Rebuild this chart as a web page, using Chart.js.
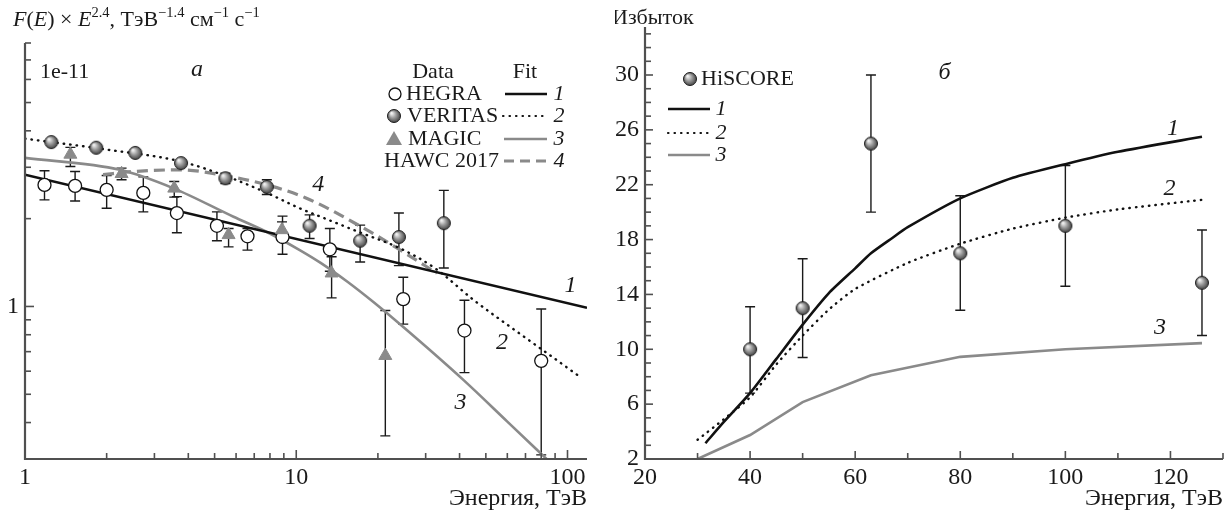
<!DOCTYPE html>
<html>
<head>
<meta charset="utf-8">
<script src="https://cdn.jsdelivr.net/npm/chart.js@4.4.1/dist/chart.umd.min.js"></script>
<style>
  body { margin: 0; background: #fff; }
  .wrap { position: relative; width: 1231px; height: 516px; }
  #left { position: absolute; left: 0; top: 0; }
  #right { position: absolute; left: 615px; top: 0; }
</style>
</head>
<body>
<div class="wrap">
  <canvas id="left" width="615" height="516"></canvas>
  <canvas id="right" width="616" height="516"></canvas>
</div>
<script>
// ---- panel a: spectra, E in TeV, F*E^2.4 in units of 1e-11 ----
const hegraE  = [1.18, 1.53, 2.0, 2.73, 3.63, 5.1, 6.61, 8.9, 13.3, 24.8, 41.7, 80.0];
const hegraF  = [2.61, 2.59, 2.51, 2.45, 2.09, 1.89, 1.74, 1.73, 1.57, 1.06, 0.827, 0.651];
const hegraLo = [2.32, 2.30, 2.17, 2.11, 1.79, 1.68, 1.56, 1.51, 1.32, 0.87, 0.593, 0.31];
const hegraHi = [2.92, 2.90, 2.81, 2.78, 2.38, 2.11, 1.85, 2.04, 1.85, 1.26, 1.05, 0.98];

const veritasE  = [1.25, 1.83, 2.55, 3.76, 5.48, 7.79, 11.2, 17.2, 23.9, 35.0];
const veritasF  = [3.66, 3.50, 3.36, 3.10, 2.75, 2.57, 1.89, 1.68, 1.73, 1.93];
const veritasLo = [3.66, 3.50, 3.36, 3.10, 2.64, 2.42, 1.71, 1.42, 1.38, 1.355];
const veritasHi = [3.66, 3.50, 3.36, 3.10, 2.86, 2.72, 2.06, 1.90, 2.09, 2.50];

const magicE  = [1.47, 2.27, 3.55, 5.63, 8.86, 13.5, 21.3];
const magicF  = [3.32, 2.85, 2.54, 1.76, 1.83, 1.30, 0.678];
const magicLo = [3.02, 2.72, 2.37, 1.60, 1.72, 1.07, 0.36];
const magicHi = [3.51, 2.98, 2.68, 1.85, 1.95, 1.48, 0.969];

const fit1E = [1, 118];
const fit1F = [2.83, 0.99];
const fit2E = [1, 2, 3.76, 5.5, 7.8, 10.3, 12.3, 17, 24.2, 32.2, 45.2, 56.6, 79.5, 110];
const fit2F = [3.76, 3.45, 3.14, 2.8, 2.45, 2.17, 2.03, 1.8, 1.58, 1.36, 1.05, 0.9, 0.718, 0.578];
const fit3E = [1, 2.24, 3.53, 5.87, 7.79, 10.3, 12.3, 15.4, 19.3, 24.2, 41.4, 60, 86];
const fit3F = [3.23, 2.94, 2.54, 2.03, 1.80, 1.56, 1.41, 1.217, 1.033, 0.867, 0.559, 0.403, 0.293];
const hawcE = [1.94, 2.5, 3.73, 5.55, 7.79, 10.8, 18.2, 24.2, 33];
const hawcF = [2.83, 2.9, 2.94, 2.8, 2.61, 2.36, 1.83, 1.56, 1.30];

const specXTicks = [1, 2, 3, 4, 5, 6, 7, 8, 9, 10, 20, 30, 40, 50, 60, 70, 80, 90, 100];
const specXMajor = [1, 10, 100];
const specYTicks = [0.3, 0.4, 0.5, 0.6, 0.7, 0.8, 0.9, 1, 2, 3, 4, 5, 6, 7, 8];
const specYMajor = [1];

// ---- panel b: HiSCORE excess ----
const hiscoreE  = [40, 50, 63, 80, 100, 126];
const hiscoreN  = [10.0, 13.0, 25.0, 17.0, 19.0, 14.85];
const hiscoreLo = [6.8, 9.4, 20.0, 12.85, 14.6, 11.0];
const hiscoreHi = [13.1, 16.6, 30.0, 21.2, 23.4, 18.7];

const ex1E = [31.5, 35, 40, 45, 50, 55, 60, 63, 67, 70, 80, 90, 100, 110, 126];
const ex1N = [3.15, 4.7, 6.8, 9.3, 11.8, 14.1, 15.9, 17.0, 18.1, 18.9, 21.0, 22.5, 23.5, 24.4, 25.5];
const ex2E = [30, 35, 40, 45, 50, 55, 60, 70, 80, 90, 100, 110, 126];
const ex2N = [3.4, 4.9, 6.5, 8.9, 11.0, 12.9, 14.4, 16.3, 17.7, 18.8, 19.6, 20.2, 20.9];
const ex3E = [30, 40, 50, 63, 80, 100, 126];
const ex3N = [2.0, 3.75, 6.15, 8.1, 9.45, 10.0, 10.45];

const excXTicks = [20, 30, 40, 50, 60, 70, 80, 90, 100, 110, 120, 130];
const excXMajor = [20, 40, 60, 80, 100, 120];
const excYTicks = [];
for (let v = 2; v <= 33; v++) excYTicks.push(v);
const excYMajor = [2, 6, 10, 14, 18, 22, 26, 30];

const SERIF = '"Liberation Serif", "Times New Roman", serif';
const GRAY = '#8a8a8a';
const DOTS = [0.5, 6];

function pts(xs, ys) {
  return xs.map((x, i) => ({ x: x, y: ys[i] }));
}

// shaded sphere used for VERITAS and HiSCORE points
function makeBall(r) {
  const c = document.createElement('canvas');
  c.width = c.height = 2 * r + 2;
  const g = c.getContext('2d');
  const o = r + 1;
  const grad = g.createRadialGradient(o - r * 0.35, o - r * 0.4, r * 0.1, o, o, r);
  grad.addColorStop(0, '#f0f0f0');
  grad.addColorStop(0.45, '#9a9a9a');
  grad.addColorStop(1, '#3c3c3c');
  g.fillStyle = grad;
  g.beginPath();
  g.arc(o, o, r - 0.5, 0, Math.PI * 2);
  g.fill();
  g.lineWidth = 1;
  g.strokeStyle = '#1e1e1e';
  g.stroke();
  return c;
}
const ball = makeBall(7);

function drawRich(ctx, x, y, runs, size) {
  runs.forEach(r => {
    const s = r.sup ? size * 0.66 : size;
    ctx.font = (r.it ? 'italic ' : '') + s + 'px ' + SERIF;
    ctx.fillText(r.t, x, r.sup ? y - size * 0.4 : y);
    x += ctx.measureText(r.t).width;
  });
}

// vertical error bars with caps, drawn under the markers
const errorBars = {
  id: 'errorBars',
  beforeDatasetsDraw(chart) {
    const { ctx, scales: { x, y } } = chart;
    ctx.save();
    ctx.strokeStyle = '#1a1a1a';
    ctx.lineWidth = 1.4;
    chart.data.datasets.forEach(ds => {
      if (!ds.errLo) return;
      ds.data.forEach((p, i) => {
        const px = x.getPixelForValue(p.x);
        const y0 = y.getPixelForValue(ds.errLo[i]);
        const y1 = y.getPixelForValue(ds.errHi[i]);
        if (Math.abs(y1 - y0) < 8) return;
        ctx.beginPath();
        ctx.moveTo(px, y0); ctx.lineTo(px, y1);
        ctx.moveTo(px - 5, y0); ctx.lineTo(px + 5, y0);
        ctx.moveTo(px - 5, y1); ctx.lineTo(px + 5, y1);
        ctx.stroke();
      });
    });
    ctx.restore();
  }
};

// inward ticks, axis lines and tick labels
function axesPlugin(cfg) {
  return {
    id: 'axesDecor',
    afterDraw(chart) {
      const { ctx, chartArea: a, scales: { x, y } } = chart;
      ctx.save();
      ctx.strokeStyle = '#505050';
      ctx.lineWidth = 1.6;
      cfg.xTicks.forEach(v => {
        const px = x.getPixelForValue(v);
        const len = cfg.xMajor.includes(v) ? cfg.majorLen : cfg.minorLen;
        ctx.beginPath(); ctx.moveTo(px, a.bottom); ctx.lineTo(px, a.bottom - len); ctx.stroke();
      });
      cfg.yTicks.forEach(v => {
        const py = y.getPixelForValue(v);
        const len = cfg.yMajor.includes(v) ? cfg.majorLen : cfg.minorLen;
        ctx.beginPath(); ctx.moveTo(a.left, py); ctx.lineTo(a.left + len, py); ctx.stroke();
      });
      ctx.lineWidth = 2.2;
      ctx.beginPath();
      ctx.moveTo(a.left, a.top); ctx.lineTo(a.left, a.bottom); ctx.lineTo(a.right, a.bottom);
      ctx.stroke();

      ctx.fillStyle = '#1a1a1a';
      ctx.font = '24px ' + SERIF;
      ctx.textAlign = 'center';
      ctx.textBaseline = 'top';
      cfg.xLabels.forEach(v => ctx.fillText(String(v), x.getPixelForValue(v), a.bottom + 7));
      ctx.textAlign = 'right';
      ctx.textBaseline = 'middle';
      cfg.yLabels.forEach(v => ctx.fillText(String(v), a.left - 6, y.getPixelForValue(v)));

      ctx.textAlign = 'right';
      ctx.textBaseline = 'alphabetic';
      ctx.fillText('Энергия, ТэВ', a.right, a.bottom + 46);

      if (cfg.extra) cfg.extra(chart, ctx, a, x, y);
      ctx.restore();
    }
  };
}

function baseScales(xType, yType, xMin, xMax, yMin, yMax) {
  const hide = { display: false };
  return {
    x: { type: xType, min: xMin, max: xMax, ticks: hide, grid: hide, border: hide,
         afterFit: s => { s.height = 0; } },
    y: { type: yType, min: yMin, max: yMax, ticks: hide, grid: hide, border: hide,
         afterFit: s => { s.width = 0; } }
  };
}

function italicAt(ctx, text, px, py, size) {
  ctx.font = 'italic ' + size + 'px ' + SERIF;
  ctx.textAlign = 'center';
  ctx.textBaseline = 'middle';
  ctx.fillText(text, px, py);
}

// ---------------- left chart ----------------
new Chart(document.getElementById('left'), {
  type: 'scatter',
  data: {
    datasets: [
      { label: 'VERITAS', data: pts(veritasE, veritasF), errLo: veritasLo, errHi: veritasHi,
        pointStyle: ball, pointRadius: 7 },
      { label: 'MAGIC', data: pts(magicE, magicF), errLo: magicLo, errHi: magicHi,
        pointStyle: 'triangle', pointRadius: 7.5, backgroundColor: GRAY, borderColor: GRAY, borderWidth: 1 },
      { label: 'HEGRA', data: pts(hegraE, hegraF), errLo: hegraLo, errHi: hegraHi,
        pointStyle: 'circle', pointRadius: 6.5, backgroundColor: '#fff', borderColor: '#111', borderWidth: 1.3 },
      { label: '1', data: pts(fit1E, fit1F), showLine: true, pointRadius: 0,
        borderColor: '#111', borderWidth: 2.6 },
      { label: '2', data: pts(fit2E, fit2F), showLine: true, pointRadius: 0, cubicInterpolationMode: 'monotone',
        borderColor: '#111', borderWidth: 2.4, borderDash: DOTS, borderCapStyle: 'round' },
      { label: '3', data: pts(fit3E, fit3F), showLine: true, pointRadius: 0, cubicInterpolationMode: 'monotone',
        borderColor: GRAY, borderWidth: 2.6 },
      { label: '4', data: pts(hawcE, hawcF), showLine: true, pointRadius: 0, cubicInterpolationMode: 'monotone',
        borderColor: GRAY, borderWidth: 3.2, borderDash: [11, 6] }
    ]
  },
  options: {
    responsive: false,
    animation: false,
    layout: { padding: { left: 25, right: 28, top: 43, bottom: 57 } },
    plugins: { legend: { display: false }, tooltip: { enabled: false } },
    scales: baseScales('logarithmic', 'logarithmic', 1, 118, 0.3, 8)
  },
  plugins: [errorBars, axesPlugin({
    xTicks: specXTicks, xMajor: specXMajor, yTicks: specYTicks, yMajor: specYMajor,
    majorLen: 9, minorLen: 6, xLabels: [1, 10, 100], yLabels: [1],
    extra(chart, ctx, a, x, y) {
      ctx.fillStyle = '#1a1a1a';
      ctx.textAlign = 'left';
      ctx.textBaseline = 'alphabetic';
      drawRich(ctx, 13, 26, [
        { t: 'F', it: 1 }, { t: '(' }, { t: 'E', it: 1 }, { t: ') × ' }, { t: 'E', it: 1 },
        { t: '2.4', sup: 1 }, { t: ', ТэВ' }, { t: '−1.4', sup: 1 }, { t: ' см' },
        { t: '−1', sup: 1 }, { t: ' с' }, { t: '−1', sup: 1 }
      ], 22);

      ctx.font = '22px ' + SERIF;
      ctx.textBaseline = 'middle';
      ctx.fillText('1e-11', 40, 72);
      italicAt(ctx, 'а', 197, 70, 24);

      // fitted curve labels
      italicAt(ctx, '4', x.getPixelForValue(12.05), y.getPixelForValue(2.61), 24);
      italicAt(ctx, '1', x.getPixelForValue(102.6), y.getPixelForValue(1.18), 24);
      italicAt(ctx, '2', x.getPixelForValue(57.4), y.getPixelForValue(0.753), 24);
      italicAt(ctx, '3', x.getPixelForValue(40.3), y.getPixelForValue(0.468), 24);

      // legend: Data / Fit columns
      ctx.font = '22px ' + SERIF;
      ctx.textAlign = 'center';
      ctx.fillText('Data', 433, 72);
      ctx.fillText('Fit', 525, 72);
      const rows = [94, 116, 139, 161];
      ctx.textAlign = 'left';
      ctx.fillText('HEGRA', 406, rows[0]);
      ctx.fillText('VERITAS', 407, rows[1]);
      ctx.fillText('MAGIC', 408, rows[2]);
      ctx.fillText('HAWC 2017', 384, rows[3]);
      ctx.beginPath();
      ctx.arc(395, rows[0], 6, 0, Math.PI * 2);
      ctx.fillStyle = '#fff'; ctx.fill();
      ctx.lineWidth = 1.3; ctx.strokeStyle = '#111'; ctx.stroke();
      ctx.drawImage(ball, 394 - 8, rows[1] - 8);
      ctx.fillStyle = GRAY;
      ctx.beginPath();
      ctx.moveTo(394, rows[2] - 8); ctx.lineTo(402, rows[2] + 6); ctx.lineTo(386, rows[2] + 6);
      ctx.closePath(); ctx.fill();

      const seg = (y0, x0, color, w, dash) => {
        ctx.strokeStyle = color; ctx.lineWidth = w; ctx.setLineDash(dash);
        ctx.lineCap = dash === DOTS ? 'round' : 'butt';
        ctx.beginPath(); ctx.moveTo(x0, y0); ctx.lineTo(547, y0); ctx.stroke();
        ctx.setLineDash([]); ctx.lineCap = 'butt';
      };
      seg(rows[0], 505, '#111', 2.6, []);
      seg(rows[1], 503, '#111', 2.2, DOTS);
      seg(rows[2], 504, GRAY, 2.6, []);
      seg(rows[3], 504, GRAY, 3.2, [10, 6]);
      ctx.fillStyle = '#1a1a1a';
      ['1', '2', '3', '4'].forEach((t, i) => italicAt(ctx, t, 559, rows[i], 22));
    }
  })]
});

// ---------------- right chart ----------------
new Chart(document.getElementById('right'), {
  type: 'scatter',
  data: {
    datasets: [
      { label: 'HiSCORE', data: pts(hiscoreE, hiscoreN), errLo: hiscoreLo, errHi: hiscoreHi,
        pointStyle: ball, pointRadius: 7 },
      { label: '1', data: pts(ex1E, ex1N), showLine: true, pointRadius: 0, tension: 0.2,
        borderColor: '#111', borderWidth: 2.6 },
      { label: '2', data: pts(ex2E, ex2N), showLine: true, pointRadius: 0, tension: 0.2,
        borderColor: '#111', borderWidth: 2.4, borderDash: DOTS, borderCapStyle: 'round' },
      { label: '3', data: pts(ex3E, ex3N), showLine: true, pointRadius: 0,
        borderColor: GRAY, borderWidth: 2.6 }
    ]
  },
  options: {
    responsive: false,
    animation: false,
    layout: { padding: { left: 30, right: 8, top: 27, bottom: 57 } },
    plugins: { legend: { display: false }, tooltip: { enabled: false } },
    scales: baseScales('linear', 'linear', 20, 130, 2, 33.5)
  },
  plugins: [errorBars, axesPlugin({
    xTicks: excXTicks, xMajor: excXMajor, yTicks: excYTicks, yMajor: excYMajor,
    majorLen: 8, minorLen: 6, xLabels: excXMajor, yLabels: excYMajor,
    extra(chart, ctx, a, x, y) {
      ctx.fillStyle = '#1a1a1a';
      ctx.textAlign = 'left';
      ctx.textBaseline = 'alphabetic';
      ctx.font = '22px ' + SERIF;
      ctx.fillText('Избыток', -3, 24);

      italicAt(ctx, 'б', x.getPixelForValue(77), y.getPixelForValue(30.2), 24);
      italicAt(ctx, '1', x.getPixelForValue(120.5), y.getPixelForValue(26.1), 24);
      italicAt(ctx, '2', x.getPixelForValue(119.8), y.getPixelForValue(21.7), 24);
      italicAt(ctx, '3', x.getPixelForValue(118), y.getPixelForValue(11.6), 24);

      // legend
      ctx.drawImage(ball, 75 - 8, 79 - 8);
      ctx.font = '22px ' + SERIF;
      ctx.textAlign = 'left';
      ctx.textBaseline = 'middle';
      ctx.fillText('HiSCORE', 86, 79);
      const rows = [109, 133, 155];
      const seg = (y0, color, w, dash) => {
        ctx.strokeStyle = color; ctx.lineWidth = w; ctx.setLineDash(dash);
        ctx.lineCap = dash === DOTS ? 'round' : 'butt';
        ctx.beginPath(); ctx.moveTo(53, y0); ctx.lineTo(95, y0); ctx.stroke();
        ctx.setLineDash([]); ctx.lineCap = 'butt';
      };
      seg(rows[0], '#111', 2.6, []);
      seg(rows[1], '#111', 2.2, DOTS);
      seg(rows[2], GRAY, 2.6, []);
      ctx.fillStyle = '#1a1a1a';
      ['1', '2', '3'].forEach((t, i) => italicAt(ctx, t, 106, rows[i], 22));
    }
  })]
});
</script>
</body>
</html>
